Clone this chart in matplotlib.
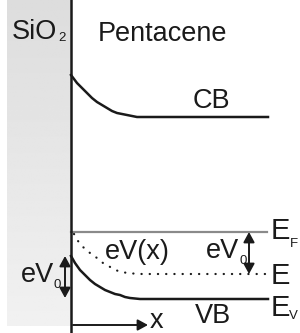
import numpy as np
import matplotlib
matplotlib.use("Agg")
import matplotlib.pyplot as plt

plt.rcParams['font.family'] = ['Liberation Sans', 'DejaVu Sans']

# Schematic band diagram, coordinates in picture units (y grows downward)
cb_x = [71, 74, 77, 82, 87, 92, 97, 102, 107, 112, 117, 122, 127, 132, 137, 142, 147, 268]
cb_y = [75, 79, 83, 88, 93, 98, 102, 105, 108, 111, 113, 114, 115, 116, 117, 117, 117, 117]
vb_x = [71, 75, 80, 85, 90, 95, 100, 105, 110, 115, 120, 125, 130, 135, 140, 268]
vb_y = [256, 263, 270, 275, 280, 284, 287, 290, 292, 294, 295, 297, 298, 298.5, 299, 299]
e_x = [74, 78, 83, 90, 97, 103, 112, 118, 127, 133, 142, 150, 270]
e_y = [234, 241, 247, 253, 258, 263, 268, 271, 273, 273.5, 274, 274, 274]
ef_x = [71, 267]
ef_y = [232, 232]

fig = plt.figure(figsize=(3.0, 3.33), dpi=100)
ax = fig.add_axes([0, 0, 1, 1])
ax.set_xlim(0, 300)
ax.set_ylim(333, 0)
ax.axis('off')

# SiO2 gradient box
grad = np.linspace(0.865, 0.945, 256).reshape(-1, 1)
ax.imshow(grad, cmap='gray', vmin=0, vmax=1, extent=[7, 71, 326, 0], aspect='auto', zorder=0)

# interface line
ax.plot([71, 71], [0, 333], color='#1a1a1a', lw=1.8, zorder=3)

ax.plot(cb_x, cb_y, color='#1a1a1a', lw=1.8)
ax.plot(vb_x, vb_y, color='#1a1a1a', lw=1.8)
ax.plot(ef_x, ef_y, color='#8a8a8a', lw=1.6)
ax.plot(e_x, e_y, color='#1a1a1a', lw=1.6, ls=(0, (0.1, 3.6)), dash_capstyle='round')

fs = 19.5
sub = 9.5
c = '#1a1a1a'
ax.text(12, 32, 'SiO', fontsize=fs, va='center', ha='left', color=c)
ax.text(58.5, 38, '2', fontsize=sub, va='center', ha='left', color=c)
ax.text(98, 34, 'Pentacene', fontsize=fs, va='center', ha='left', color=c)
ax.text(211, 101, 'CB', fontsize=fs, va='center', ha='center', color=c)
ax.text(213, 316, 'VB', fontsize=fs, va='center', ha='center', color=c)
ax.text(137, 252, 'eV(x)', fontsize=fs, va='center', ha='center', color=c)
ax.text(239, 251, 'eV', fontsize=fs, va='center', ha='right', color=c)
ax.text(239, 261, '0', fontsize=sub, va='center', ha='left', color=c)
ax.text(54, 275, 'eV', fontsize=fs, va='center', ha='right', color=c)
ax.text(54, 285, '0', fontsize=sub, va='center', ha='left', color=c)
ax.text(271, 231, 'E', fontsize=21, va='center', ha='left', color=c)
ax.text(290, 244, 'F', fontsize=sub, va='center', ha='left', color=c)
ax.text(271, 276, 'E', fontsize=21, va='center', ha='left', color=c)
ax.text(271, 307.5, 'E', fontsize=21, va='center', ha='left', color=c)
ax.text(289, 316, 'V', fontsize=sub, va='center', ha='left', color=c)
ax.text(150, 321, 'x', fontsize=fs, va='center', ha='left', color=c)

arr = dict(arrowstyle='<|-|>,head_length=0.55,head_width=0.3', color=c, lw=1.4,
           mutation_scale=11, shrinkA=0, shrinkB=0)
ax.annotate('', xy=(65, 256), xytext=(65, 298), arrowprops=arr)
ax.annotate('', xy=(249, 232), xytext=(249, 274), arrowprops=arr)
ax.annotate('', xy=(148, 325), xytext=(73, 325),
            arrowprops=dict(arrowstyle='-|>,head_length=0.55,head_width=0.3', color=c, lw=1.4,
                            mutation_scale=11, shrinkA=0, shrinkB=0))

fig.savefig('out.png', dpi=100)
